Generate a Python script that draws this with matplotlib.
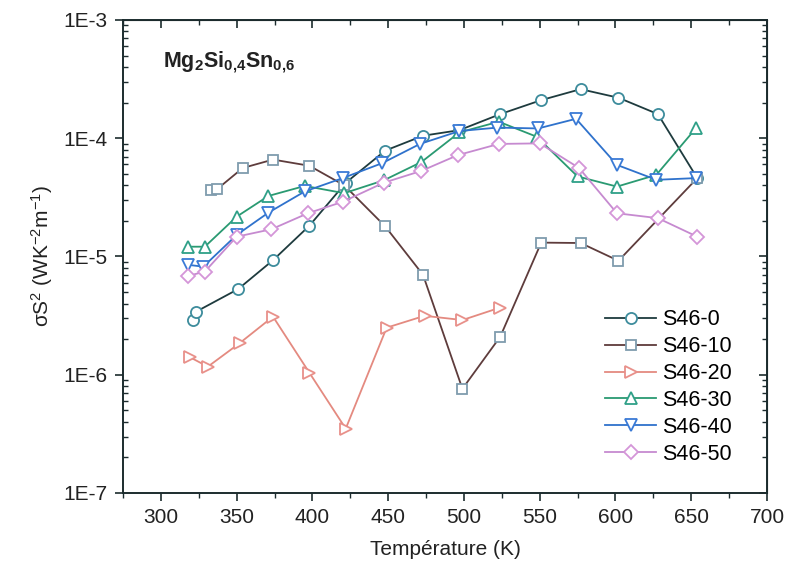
import matplotlib
matplotlib.use("Agg")
import matplotlib.pyplot as plt

plt.rcParams['font.family'] = ['Liberation Sans', 'DejaVu Sans']
plt.rcParams['mathtext.fontset'] = 'custom'
plt.rcParams['mathtext.rm'] = 'Liberation Sans'
plt.rcParams['mathtext.it'] = 'Liberation Sans'
plt.rcParams['mathtext.bf'] = 'Liberation Sans:bold'

# data (T in K, power factor in W K^-2 m^-1)
t_0 = [321, 323, 351, 374, 398, 422, 448, 473, 497, 524, 551, 577, 602, 628, 654]
s_0 = [2.9e-6, 3.4e-6, 5.3e-6, 9.3e-6, 1.82e-5, 4.2e-5, 7.85e-5, 1.05e-4, 1.17e-4,
       1.6e-4, 2.1e-4, 2.6e-4, 2.2e-4, 1.6e-4, 4.6e-5]

t_10 = [333, 337, 354, 374, 398, 421, 448, 473, 499, 524, 551, 577, 602, 654]
s_10 = [3.65e-5, 3.7e-5, 5.6e-5, 6.6e-5, 5.85e-5, 4.0e-5, 1.8e-5, 7.0e-6, 7.6e-7,
        2.1e-6, 1.31e-5, 1.3e-5, 9.2e-6, 4.6e-5]

t_20 = [319, 331, 352, 374, 398, 422, 449, 474, 499, 524]
s_20 = [1.41e-6, 1.17e-6, 1.85e-6, 3.1e-6, 1.04e-6, 3.5e-7, 2.5e-6, 3.15e-6, 2.9e-6, 3.7e-6]

t_30 = [318, 329, 350, 371, 395, 421, 447, 472, 497, 523, 548, 575, 601, 627, 653]
s_30 = [1.21e-5, 1.21e-5, 2.17e-5, 3.25e-5, 3.95e-5, 3.43e-5, 4.4e-5, 6.3e-5, 1.12e-4,
        1.38e-4, 1.03e-4, 4.75e-5, 3.9e-5, 4.9e-5, 1.21e-4]

t_40 = [318, 328, 350, 371, 395, 420, 446, 471, 497, 522, 549, 574, 601, 627, 653]
s_40 = [8.5e-6, 8.2e-6, 1.52e-5, 2.35e-5, 3.55e-5, 4.6e-5, 6.15e-5, 8.95e-5, 1.15e-4,
        1.23e-4, 1.21e-4, 1.46e-4, 5.95e-5, 4.45e-5, 4.6e-5]

t_50 = [318, 329, 350, 373, 397, 420, 447, 472, 496, 523, 550, 576, 601, 628, 654]
s_50 = [6.85e-6, 7.45e-6, 1.47e-5, 1.7e-5, 2.32e-5, 2.9e-5, 4.2e-5, 5.3e-5, 7.2e-5,
        8.95e-5, 9.05e-5, 5.6e-5, 2.32e-5, 2.11e-5, 1.47e-5]

labels = ['S46-0', 'S46-10', 'S46-20', 'S46-30', 'S46-40', 'S46-50']
line_colors = ['#1e3b3e', '#5e3c3c', '#e48a80', '#2a9a72', '#2f72cc', '#c68ad0']
edge_colors = ['#3d8c9c', '#7f9cae', '#e8908a', '#2fa088', '#3a7ad6', '#d496d8']
markers = ['o', 's', '>', '^', 'v', 'D']
sizes = [8, 7.5, 8.5, 9, 9, 7]

fig = plt.figure(figsize=(7.92, 5.81), dpi=100)
ax = fig.add_axes([0.1553, 0.1515, 0.8131, 0.8141])

series = [(t_0, s_0), (t_10, s_10), (t_20, s_20), (t_30, s_30), (t_40, s_40), (t_50, s_50)]
for (t, s), lab, lc, ec, m, ms in zip(series, labels, line_colors, edge_colors, markers, sizes):
    ax.plot(t, s, color=lc, lw=1.3, marker=m, ms=ms, mfc='white', mec=ec, mew=1.3,
            label=lab)

ax.set_yscale('log')
ax.set_xlim(275, 700)
ax.set_ylim(1e-7, 1e-3)
ax.set_xticks(range(300, 701, 50))
ax.set_xticks(range(275, 701, 25), minor=True)
ax.set_yticks([1e-7, 1e-6, 1e-5, 1e-4, 1e-3])
ax.set_yticklabels(['1E-7', '1E-6', '1E-5', '1E-4', '1E-3'])

spine_col = '#1c2c2e'
for sp in ax.spines.values():
    sp.set_color(spine_col)
    sp.set_linewidth(1.4)

ax.tick_params(axis='both', which='major', direction='out', length=6, width=1.2,
               colors=spine_col, labelsize=15, labelcolor='#222222', pad=5)
ax.tick_params(axis='x', which='minor', direction='out', length=3.5, width=1.0, colors=spine_col)
ax.tick_params(axis='y', which='minor', direction='in', length=3.5, width=1.0, colors=spine_col)

# mirrored ticks pointing inward on top and right
top = ax.secondary_xaxis('top')
top.set_xticks(range(300, 701, 50))
top.set_xticks(range(275, 701, 25), minor=True)
top.tick_params(which='major', direction='in', length=6, width=1.2, colors=spine_col,
                labeltop=False)
top.tick_params(which='minor', direction='in', length=3.5, width=1.0, colors=spine_col)
right = ax.secondary_yaxis('right')
right.set_yscale('log')
right.tick_params(which='major', direction='in', length=6, width=1.2, colors=spine_col,
                  labelright=False)
right.tick_params(which='minor', direction='in', length=3.5, width=1.0, colors=spine_col)
right.set_yticks([1e-7, 1e-6, 1e-5, 1e-4, 1e-3])
right.set_yticklabels([])

ax.set_xlabel('Température (K)', fontsize=15, labelpad=9, color='#222222')
ax.set_ylabel(r'σS$^2$ (WK$^{-2}$m$^{-1}$)', fontsize=15, labelpad=6, color='#222222')

ax.text(0.062, 0.9, r'$\mathbf{Mg_2Si_{0{,}4}Sn_{0{,}6}}$', transform=ax.transAxes,
        fontsize=15.5, color='#222222')

ax.legend(loc='upper left', bbox_to_anchor=(0.748, 0.388), frameon=False, fontsize=15.5,
          handlelength=2.4, handletextpad=0.25, labelspacing=0.27, borderaxespad=0,
          borderpad=0)

fig.savefig('out.png', dpi=100)
